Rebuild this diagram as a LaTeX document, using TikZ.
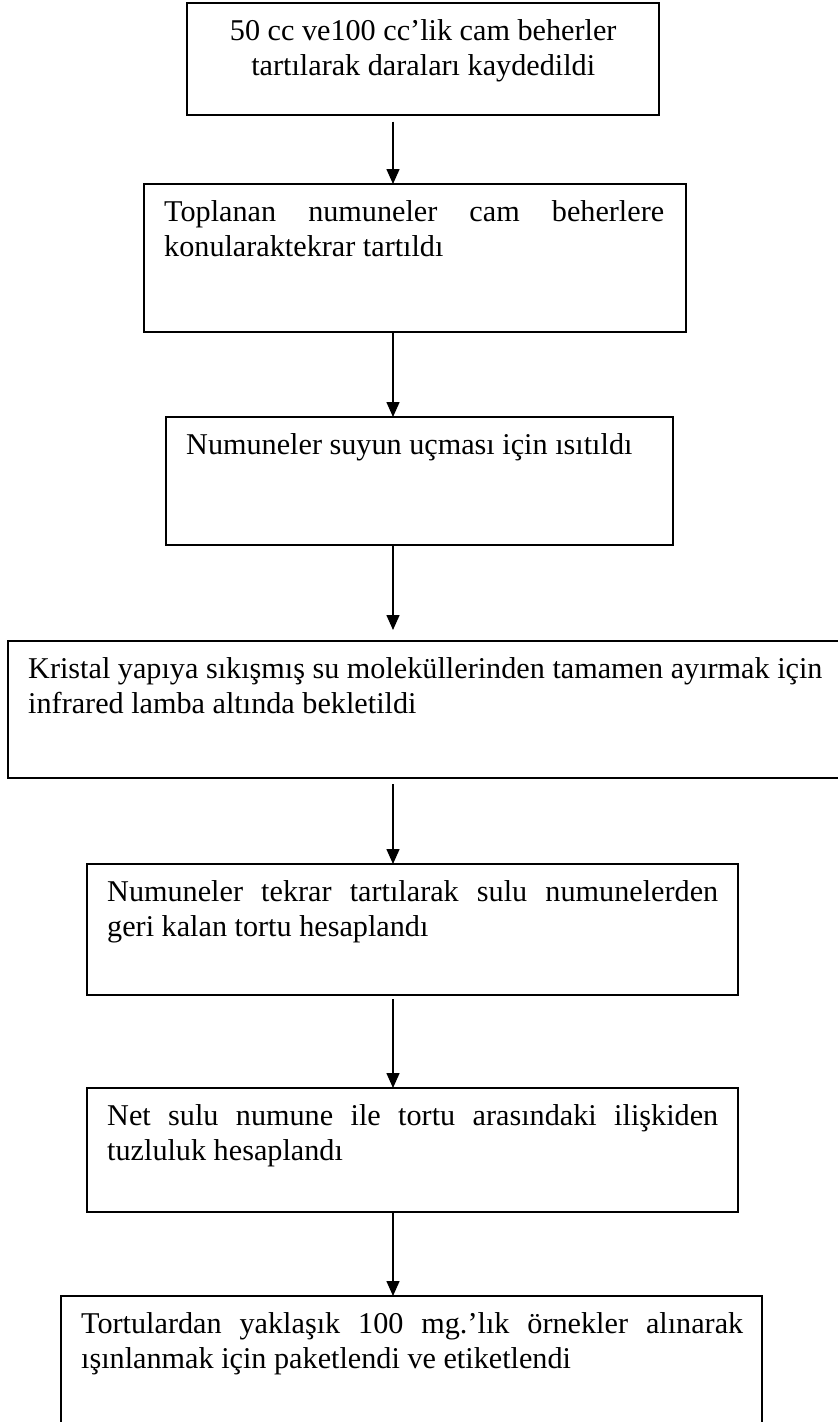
\documentclass[tikz,border=0pt]{standalone}
\usepackage{fontspec}
\setmainfont{Liberation Serif}
\usetikzlibrary{arrows.meta,calc}
\newcommand{\fullline}[1]{\makebox[\linewidth][s]{#1}}
\tikzset{
  stepbox/.style={rectangle, draw=black, line width=1.6pt, anchor=north west,
    inner sep=0pt, outer sep=0pt},
  steptext/.style={anchor=base west, inner sep=0pt, font=\fontsize{30.2}{35}\selectfont},
  flow/.style={-{Triangle[length=15pt, width=13pt]}, line width=1.5pt, draw=black},
}
\begin{document}
\begin{tikzpicture}[x=1pt, y=-1pt]
  \useasboundingbox (0,0) rectangle (838,1422);
  \clip (0,0) rectangle (838,1422);
  \coordinate (ax) at (393,0);
  \node[stepbox, minimum width=472pt, minimum height=112pt] (b1) at (187,3) {};
  \node[stepbox, minimum width=542pt, minimum height=148pt] (b2) at (144,184) {};
  \node[stepbox, minimum width=507pt, minimum height=128pt] (b3) at (166,417) {};
  \node[stepbox, minimum width=842pt, minimum height=137pt] (b4) at (8,641) {};
  \node[stepbox, minimum width=651pt, minimum height=131pt] (b5) at (87,864) {};
  \node[stepbox, minimum width=651pt, minimum height=124pt] (b6) at (87,1088) {};
  \node[stepbox, minimum width=701pt, minimum height=150pt] (b7) at (61,1296) {};
  \node[steptext] (t1) at ($(b1.north west)+(20,37.5)$) {\parbox[t]{432pt}{\centering
    50 cc ve100 cc’lik cam beherler\\ tartılarak daraları kaydedildi}};
  \node[steptext] (t2) at ($(b2.north west)+(20,37.5)$) {\parbox[t]{500pt}{%
    \fullline{Toplanan numuneler cam beherlere}\\ konularaktekrar tartıldı}};
  \node[steptext] (t3) at ($(b3.north west)+(20,37.5)$) {Numuneler suyun uçması için ısıtıldı};
  \node[steptext] (t4) at ($(b4.north west)+(20,37.5)$) {\parbox[t]{830pt}{\raggedright
    Kristal yapıya sıkışmış su moleküllerinden tamamen ayırmak için\\ infrared lamba altında bekletildi}};
  \node[steptext] (t5) at ($(b5.north west)+(20,37.5)$) {\parbox[t]{611pt}{%
    \fullline{Numuneler tekrar tartılarak sulu numunelerden}\\ geri kalan tortu hesaplandı}};
  \node[steptext] (t6) at ($(b6.north west)+(20,37.5)$) {\parbox[t]{611pt}{%
    \fullline{Net sulu numune ile tortu arasındaki ilişkiden}\\ tuzluluk hesaplandı}};
  \node[steptext] (t7) at ($(b7.north west)+(20,37.5)$) {\parbox[t]{662pt}{%
    \fullline{Tortulardan yaklaşık 100 mg.’lık örnekler alınarak}\\ ışınlanmak için paketlendi ve etiketlendi}};
  \draw[flow] ($(b1.south -| ax)+(0,6.7)$) -- (b2.north -| ax);
  \draw[flow] (b2.south -| ax) -- (b3.north -| ax);
  \draw[flow] (b3.south -| ax) -- ($(b4.north -| ax)+(0,-11)$);
  \draw[flow] ($(b4.south -| ax)+(0,6)$) -- (b5.north -| ax);
  \draw[flow] ($(b5.south -| ax)+(0,4)$) -- (b6.north -| ax);
  \draw[flow] (b6.south -| ax) -- (b7.north -| ax);
\end{tikzpicture}
\end{document}
